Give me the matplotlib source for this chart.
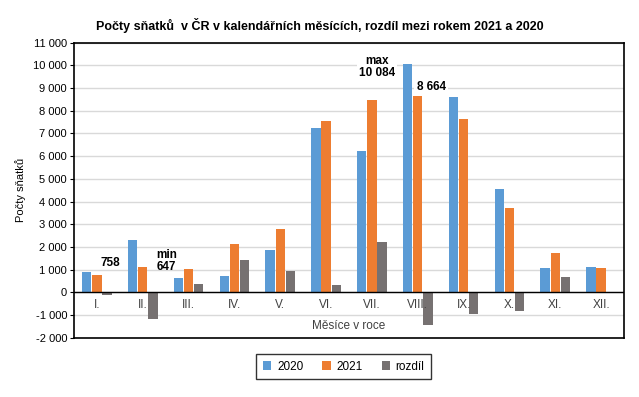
import matplotlib
matplotlib.use("Agg")
import matplotlib.pyplot as plt
import numpy as np

plt.rcParams['font.family'] = ['Liberation Sans', 'DejaVu Sans']

# Data
mesice = ["I.", "II.", "III.", "IV.", "V.", "VI.", "VII.", "VIII.", "IX.", "X.", "XI.", "XII."]
s2020 = [890, 2294, 647, 715, 1855, 7250, 6241, 10084, 8610, 4531, 1066, 1110]
s2021 = [758, 1110, 1020, 2118, 2776, 7557, 8478, 8664, 7645, 3697, 1724, 1060]
rozdil = [b - a for a, b in zip(s2020, s2021)]

C2020 = "#5B9BD5"
C2021 = "#ED7D31"
CROZ = "#767171"


def fmt(v):
    return "{:,}".format(int(v)).replace(",", " ")


fig = plt.figure(figsize=(6.39, 3.97), dpi=100)
ax = fig.add_axes([0.1158, 0.1494, 0.8607, 0.743])

x = np.arange(len(mesice))
w = 0.205
step = 0.222

ax.bar(x - step, s2020, w, color=C2020, label="2020", zorder=3)
ax.bar(x, s2021, w, color=C2021, label="2021", zorder=3)
ax.bar(x + step, rozdil, w, color=CROZ, label="rozdíl", zorder=3)

ax.set_xlim(-0.5, len(mesice) - 0.5)
ax.set_ylim(-2000, 11000)
ax.set_yticks(range(-2000, 11001, 1000))
ax.set_yticklabels([fmt(v) for v in range(-2000, 11001, 1000)], fontsize=8)
ax.tick_params(axis='y', length=3, width=0.8, pad=2)
ax.set_xticks([])
ax.yaxis.grid(True, color="#d9d9d9", linewidth=1, zorder=0)
ax.axhline(0, color="black", linewidth=1, zorder=4)
for sp in ax.spines.values():
    sp.set_linewidth(1.2)
    sp.set_color("black")

# month labels just below the zero line
for i, m in enumerate(mesice):
    ax.text(i, -580, m, ha="center", va="center", fontsize=8.5, color="#404040", zorder=5)

ax.text(0.5, 0.04, "Měsíce v roce", transform=ax.transAxes, ha="center", va="center",
        fontsize=8.5, color="#404040")
ax.set_ylabel("Počty sňatků", fontsize=8, labelpad=5)

# annotations
ax.text(0 + 0.285, s2021[0] + 530, fmt(s2021[0]), ha="center", va="center",
        fontsize=8.5, fontweight="bold", zorder=6)
ax.text(2 - 0.48, s2020[2] + 730, "min\n" + fmt(s2020[2]), ha="center", va="center",
        fontsize=8.5, fontweight="bold", linespacing=1.0, zorder=6)
ax.text(7 - 0.89, s2020[7] - 160, "max\n" + fmt(s2020[7]), ha="center", va="center",
        fontsize=8.5, fontweight="bold", linespacing=1.0, zorder=6,
        bbox=dict(facecolor="white", edgecolor="none", pad=1.5))
ax.text(7 + 0.29, s2021[7] + 380, fmt(s2021[7]), ha="center", va="center",
        fontsize=8.5, fontweight="bold", zorder=6,
        bbox=dict(facecolor="white", edgecolor="none", pad=1.5))

fig.suptitle("Počty sňatků  v ČR v kalendářních měsících, rozdíl mezi rokem 2021 a 2020",
             x=0.5, y=0.955, fontsize=9, fontweight="bold")

leg = fig.legend(loc="center", bbox_to_anchor=(0.538, 0.0763), ncol=3, fontsize=8.5,
                 frameon=True, fancybox=False, edgecolor="black", handlelength=0.7,
                 handleheight=0.7, handletextpad=0.5, columnspacing=1.6, borderpad=0.55)
leg.get_frame().set_linewidth(1.0)

fig.savefig("out.png", dpi=100)
